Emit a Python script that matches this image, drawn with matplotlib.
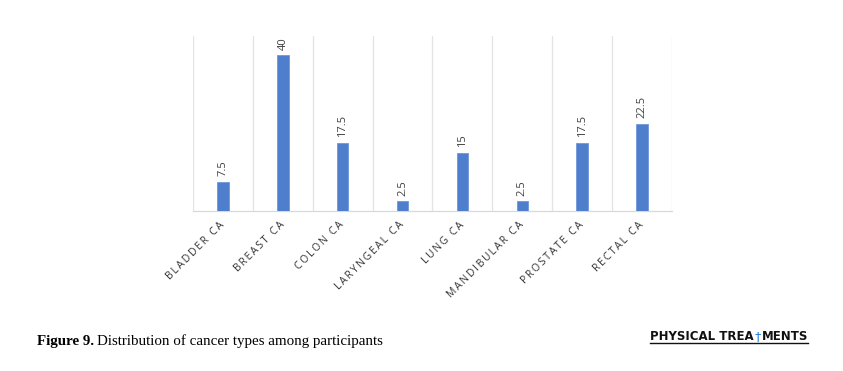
import matplotlib
matplotlib.use('Agg')
import matplotlib.pyplot as plt
import numpy as np
from matplotlib.lines import Line2D

cancer_types = ['BLADDER CA', 'BREAST CA', 'COLON CA', 'LARYNGEAL CA',
                'LUNG CA', 'MANDIBULAR CA', 'PROSTATE CA', 'RECTAL CA']
percent = [7.5, 40, 17.5, 2.5, 15, 2.5, 17.5, 22.5]
value_labels = ['7.5', '40', '17.5', '2.5', '15', '2.5', '17.5', '22.5']

plt.rcParams['font.family'] = ['Open Sans', 'DejaVu Sans']

fig = plt.figure(figsize=(8.43, 3.71), dpi=100)
ax = fig.add_axes([0.229, 0.431, 0.568, 0.472])

ind = np.arange(len(cancer_types))
bars = ax.bar(ind, percent, 0.19, color='#4f7fcc', edgecolor='#6f97d8', linewidth=0.6, zorder=3)

ax.set_xlim(-0.5, len(cancer_types) - 0.5)
ax.set_ylim(0, 45)

# category separators like the excel chart
for b in np.arange(-0.5, len(cancer_types), 1.0):
    ax.axvline(b, color='#e3e3e3', linewidth=0.9, zorder=1)

for s in ['top', 'left', 'right']:
    ax.spines[s].set_visible(False)
ax.spines['bottom'].set_color('#d9d9d9')
ax.spines['bottom'].set_linewidth(0.9)
ax.set_yticks([])
ax.tick_params(axis='x', length=0, pad=9)

def spaced(s):
    return '\u2009'.join(list(s))

ax.set_xticks(ind)
ax.set_xticklabels([spaced(c) for c in cancer_types], rotation=45, ha='right', va='center',
                   rotation_mode='anchor', fontsize=7.5, color='#333333')

for i, v in enumerate(percent):
    ax.annotate(value_labels[i], (ind[i], v), xytext=(0, 4), textcoords='offset points',
                rotation=90, ha='center', va='bottom', fontsize=8, color='#404040')

# caption
cap_y = 1 - 341 / 371
r = fig.canvas.get_renderer()
c1 = fig.text(37 / 843, cap_y, 'Figure 9.', fontsize=10.8, fontweight='bold',
              family='Liberation Serif', va='center', ha='left')
ce = c1.get_window_extent(renderer=r)
fig.text(ce.x1 / fig.bbox.width + 0.004, cap_y, 'Distribution of cancer types among participants',
         fontsize=10.8, family='Liberation Serif', va='center', ha='left')

# journal logo
ly = 1 - 337 / 371
x0 = 650 / 843
t1 = fig.text(x0, ly, 'PHYSICAL TREA', fontsize=8.5, fontweight='bold', family='DejaVu Sans',
              va='center', ha='left', color='#111111')
e1 = t1.get_window_extent(renderer=r)
x1 = e1.x1 / fig.bbox.width
t2 = fig.text(x1 + 0.001, ly, '\u2020', fontsize=9, family='DejaVu Sans',
              va='center', ha='left', color='#2b7fd4')
e2 = t2.get_window_extent(renderer=r)
x2 = e2.x1 / fig.bbox.width
t3 = fig.text(x2 + 0.001, ly, 'MENTS', fontsize=8.5, fontweight='bold', family='DejaVu Sans',
              va='center', ha='left', color='#111111')
e3 = t3.get_window_extent(renderer=r)
fig.add_artist(Line2D([x0, e3.x1 / fig.bbox.width], [1 - 343 / 371, 1 - 343 / 371],
                      transform=fig.transFigure, color='#111111', linewidth=1.0))

fig.savefig('out.png', dpi=100)
